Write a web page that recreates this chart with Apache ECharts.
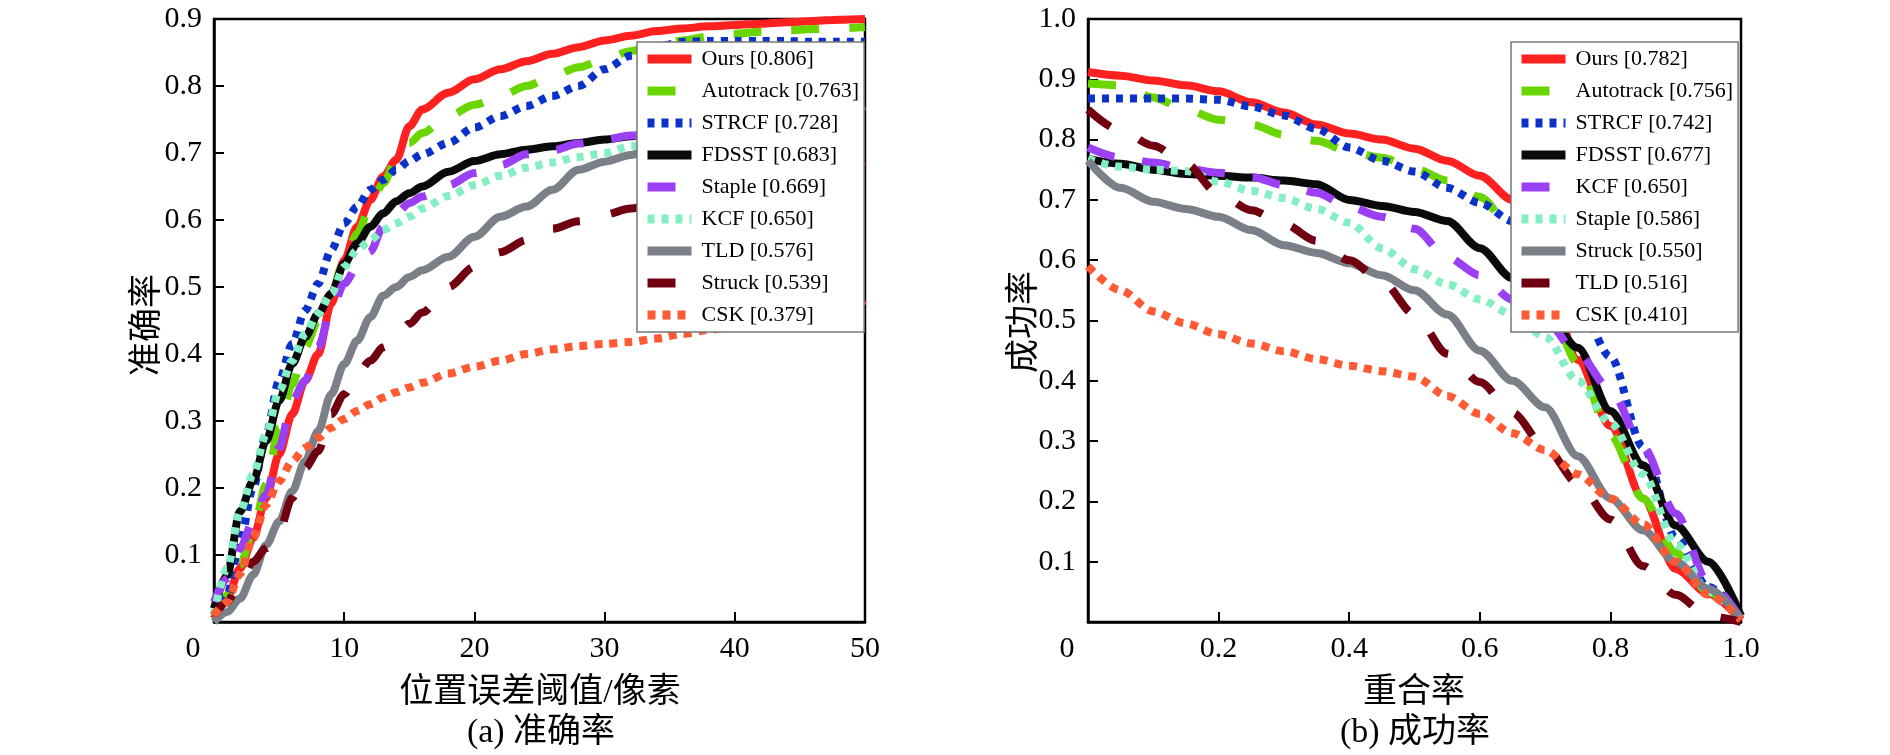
<!DOCTYPE html>
<html>
<head>
<meta charset="utf-8">
<title>准确率 / 成功率</title>
<script src="https://cdn.jsdelivr.net/npm/echarts/dist/echarts.min.js"></script>
<style>
  html, body { margin: 0; padding: 0; background: #fff; }
  #main { width: 1890px; height: 755px; }
</style>
</head>
<body>
<div id="main"></div>
<script>
// ---- 数据 ----
// (a) 准确率: 位置误差阈值 (像素)
var precX = [0, 1, 2, 3, 4, 5, 6, 7, 8, 9, 10, 11, 12, 13, 14, 15, 16, 18, 20, 22, 24, 26, 28, 30, 32, 34, 36, 38, 40, 42, 44, 46, 48, 50];
var precNames = ['Ours [0.806]', 'Autotrack [0.763]', 'STRCF [0.728]', 'FDSST [0.683]', 'Staple [0.669]', 'KCF [0.650]', 'TLD [0.576]', 'Struck [0.539]', 'CSK [0.379]'];
var precOurs = [0.005, 0.035, 0.08, 0.125, 0.185, 0.25, 0.31, 0.36, 0.40, 0.475, 0.54, 0.59, 0.63, 0.665, 0.69, 0.74, 0.765, 0.79, 0.81, 0.825, 0.837, 0.848, 0.858, 0.868, 0.875, 0.882, 0.886, 0.889, 0.891, 0.893, 0.895, 0.897, 0.899, 0.90];
var precAutotrack = [0.01, 0.04, 0.085, 0.135, 0.205, 0.29, 0.355, 0.41, 0.45, 0.49, 0.54, 0.58, 0.62, 0.655, 0.69, 0.715, 0.73, 0.755, 0.772, 0.785, 0.80, 0.815, 0.828, 0.84, 0.852, 0.862, 0.868, 0.874, 0.878, 0.881, 0.883, 0.885, 0.886, 0.888];
var precSTRCF = [0.01, 0.04, 0.12, 0.20, 0.28, 0.36, 0.415, 0.465, 0.505, 0.555, 0.595, 0.62, 0.645, 0.66, 0.675, 0.688, 0.698, 0.715, 0.738, 0.755, 0.77, 0.785, 0.80, 0.825, 0.845, 0.858, 0.866, 0.867, 0.867, 0.867, 0.867, 0.866, 0.866, 0.866];
var precFDSST = [0.02, 0.07, 0.165, 0.21, 0.27, 0.33, 0.385, 0.425, 0.46, 0.49, 0.535, 0.565, 0.59, 0.61, 0.628, 0.64, 0.65, 0.672, 0.688, 0.698, 0.705, 0.71, 0.715, 0.72, 0.725, 0.73, 0.733, 0.736, 0.739, 0.741, 0.743, 0.745, 0.747, 0.75];
var precStaple = [0.03, 0.065, 0.11, 0.15, 0.19, 0.26, 0.33, 0.36, 0.41, 0.465, 0.505, 0.53, 0.553, 0.59, 0.61, 0.625, 0.635, 0.652, 0.67, 0.682, 0.698, 0.704, 0.714, 0.72, 0.726, 0.73, 0.734, 0.738, 0.741, 0.744, 0.747, 0.75, 0.752, 0.755];
var precKCF = [0.01, 0.08, 0.165, 0.22, 0.28, 0.345, 0.39, 0.43, 0.46, 0.49, 0.53, 0.555, 0.57, 0.585, 0.595, 0.605, 0.617, 0.636, 0.652, 0.666, 0.678, 0.686, 0.694, 0.70, 0.71, 0.718, 0.725, 0.73, 0.735, 0.74, 0.744, 0.748, 0.751, 0.755];
var precTLD = [0.0, 0.015, 0.035, 0.07, 0.115, 0.15, 0.195, 0.24, 0.285, 0.34, 0.385, 0.42, 0.455, 0.487, 0.50, 0.515, 0.525, 0.545, 0.575, 0.605, 0.62, 0.645, 0.675, 0.687, 0.697, 0.708, 0.718, 0.728, 0.736, 0.744, 0.75, 0.756, 0.763, 0.77];
var precStruck = [0.01, 0.03, 0.06, 0.09, 0.11, 0.135, 0.185, 0.23, 0.255, 0.31, 0.34, 0.37, 0.39, 0.41, 0.425, 0.445, 0.462, 0.50, 0.53, 0.552, 0.57, 0.587, 0.598, 0.608, 0.617, 0.625, 0.635, 0.643, 0.65, 0.657, 0.663, 0.67, 0.678, 0.687];
var precCSK = [0.01, 0.03, 0.072, 0.125, 0.175, 0.21, 0.24, 0.26, 0.275, 0.29, 0.303, 0.315, 0.325, 0.335, 0.343, 0.35, 0.357, 0.371, 0.381, 0.39, 0.40, 0.407, 0.412, 0.415, 0.418, 0.423, 0.43, 0.436, 0.442, 0.448, 0.454, 0.461, 0.47, 0.48];

// (b) 成功率: 重合率
var succX = [0, 0.05, 0.1, 0.15, 0.2, 0.25, 0.3, 0.35, 0.4, 0.45, 0.5, 0.55, 0.6, 0.65, 0.7, 0.75, 0.8, 0.85, 0.9, 0.95, 1.0];
var succNames = ['Ours [0.782]', 'Autotrack [0.756]', 'STRCF [0.742]', 'FDSST [0.677]', 'KCF [0.650]', 'Staple [0.586]', 'Struck [0.550]', 'TLD [0.516]', 'CSK [0.410]'];
var succOurs = [0.912, 0.906, 0.898, 0.89, 0.88, 0.862, 0.845, 0.825, 0.81, 0.80, 0.785, 0.765, 0.74, 0.70, 0.585, 0.435, 0.325, 0.205, 0.088, 0.047, 0.003];
var succAutotrack = [0.893, 0.89, 0.87, 0.85, 0.833, 0.825, 0.808, 0.798, 0.78, 0.77, 0.752, 0.732, 0.705, 0.652, 0.54, 0.43, 0.31, 0.205, 0.115, 0.05, 0.003];
var succSTRCF = [0.868, 0.868, 0.868, 0.868, 0.866, 0.855, 0.84, 0.818, 0.787, 0.765, 0.747, 0.72, 0.695, 0.665, 0.60, 0.53, 0.44, 0.29, 0.14, 0.058, 0.01];
var succFDSST = [0.768, 0.76, 0.75, 0.743, 0.74, 0.737, 0.732, 0.726, 0.70, 0.69, 0.68, 0.665, 0.62, 0.57, 0.515, 0.455, 0.35, 0.26, 0.16, 0.10, 0.01];
var succKCF = [0.787, 0.77, 0.762, 0.752, 0.745, 0.738, 0.725, 0.712, 0.688, 0.672, 0.652, 0.605, 0.575, 0.535, 0.50, 0.445, 0.385, 0.29, 0.18, 0.065, 0.005];
var succStaple = [0.768, 0.755, 0.75, 0.748, 0.73, 0.715, 0.703, 0.685, 0.662, 0.62, 0.585, 0.56, 0.535, 0.51, 0.473, 0.40, 0.33, 0.245, 0.13, 0.05, 0.005];
var succStruck = [0.765, 0.72, 0.697, 0.685, 0.672, 0.65, 0.625, 0.612, 0.595, 0.575, 0.55, 0.51, 0.45, 0.40, 0.356, 0.275, 0.205, 0.152, 0.10, 0.055, 0.005];
var succTLD = [0.85, 0.815, 0.79, 0.76, 0.71, 0.683, 0.66, 0.632, 0.60, 0.565, 0.51, 0.445, 0.398, 0.347, 0.29, 0.23, 0.17, 0.093, 0.045, 0.01, 0.0];
var succCSK = [0.59, 0.55, 0.515, 0.495, 0.477, 0.462, 0.449, 0.436, 0.425, 0.416, 0.407, 0.375, 0.345, 0.313, 0.285, 0.245, 0.205, 0.162, 0.10, 0.045, 0.003];

var precVals = [precOurs, precAutotrack, precSTRCF, precFDSST, precStaple, precKCF, precTLD, precStruck, precCSK];
var succVals = [succOurs, succAutotrack, succSTRCF, succFDSST, succKCF, succStaple, succStruck, succTLD, succCSK];

// 每个位置的线型(两幅图相同)
var lineColors = ['#ff2020', '#6ad600', '#0a32c8', '#0a0a0a', '#9b3ff5', '#85efc4', '#7a7f88', '#700010', '#ff5a33'];
var lineTypes = ['solid', [28, 30], [7, 7], 'solid', [28, 28], [7, 7], 'solid', [28, 32], [8, 7]];

var serif = '"Liberation Serif", "Times New Roman", "Noto Sans CJK SC", serif';
var cjk = '"Liberation Serif", "Noto Sans CJK SC", serif';

var myChart = echarts.init(document.getElementById('main'));

// 系列名加前缀,避免两幅图同名(KCF [0.650])互相干扰
function makeSeries(xs, vals, names, prefix, idx) {
    return vals.map(function (v, i) {
        return {
            name: prefix + names[i],
            type: 'line',
            xAxisIndex: idx,
            yAxisIndex: idx,
            symbol: 'none',
            smooth: 0.3,
            smoothMonotone: 'x',
            lineStyle: { color: lineColors[i], width: 8, type: lineTypes[i], cap: 'butt' },
            itemStyle: { color: lineColors[i] },
            data: xs.map(function (x, j) { return [x, v[j]]; })
        };
    });
}

function axisBase() {
    return {
        axisLine: { show: true, lineStyle: { color: '#000', width: 2.5 } },
        axisTick: { show: true, inside: true, length: 10, lineStyle: { color: '#000', width: 2 } },
        splitLine: { show: false },
        axisLabel: { color: '#000', fontFamily: serif, fontSize: 30, margin: 12 }
    };
}

// "0" 标签偏左
var zeroRich = { z: { fontFamily: serif, fontSize: 30, color: '#000', padding: [0, 42, 0, 0] } };

var xA = axisBase();
xA.gridIndex = 0; xA.type = 'value'; xA.min = 0; xA.max = 50; xA.interval = 10;
xA.axisLabel.formatter = function (v) { return v === 0 ? '{z|0}' : String(v); };
xA.axisLabel.rich = zeroRich;

var xB = axisBase();
xB.gridIndex = 1; xB.type = 'value'; xB.min = 0; xB.max = 1; xB.interval = 0.2;
xB.axisLabel.formatter = function (v) { return v === 0 ? '{z|0}' : v.toFixed(1); };
xB.axisLabel.rich = zeroRich;

var yA = axisBase();
yA.gridIndex = 0; yA.type = 'value'; yA.min = 0; yA.max = 0.9; yA.interval = 0.1;
yA.axisLabel.formatter = function (v) { return v === 0 ? '' : v.toFixed(1); };

var yB = axisBase();
yB.gridIndex = 1; yB.type = 'value'; yB.min = 0; yB.max = 1; yB.interval = 0.1;
yB.axisLabel.formatter = function (v) { return v === 0 ? '' : v.toFixed(1); };

function legendBox(left, names, prefix) {
    return {
        orient: 'vertical',
        left: left,
        top: 42,
        padding: [6, 5, 6, 6],
        itemWidth: 44,
        itemHeight: 14,
        itemGap: 10,
        backgroundColor: '#fff',
        borderColor: '#777',
        borderWidth: 1.5,
        borderRadius: 0,
        selectedMode: false,
        itemStyle: { opacity: 0 },
        lineStyle: { width: 9 },
        data: names.map(function (n) { return prefix + n; }),
        formatter: function (n) { return n.split('|')[1]; },
        textStyle: { color: '#000', fontFamily: serif, fontSize: 22, lineHeight: 22, padding: [0, 0, 0, 5] }
    };
}

function label(text, x, y, rot) {
    return {
        type: 'text',
        x: x,
        y: y,
        rotation: rot || 0,
        style: {
            text: text,
            fontFamily: cjk,
            fontSize: 34,
            fill: '#000',
            align: 'center',
            verticalAlign: 'middle'
        }
    };
}

myChart.setOption({
    backgroundColor: '#fff',
    animation: false,
    grid: [
        { left: 214, top: 19, width: 651, height: 603, show: true, borderColor: '#000', borderWidth: 2.5, backgroundColor: 'transparent' },
        { left: 1088, top: 19, width: 653, height: 603, show: true, borderColor: '#000', borderWidth: 2.5, backgroundColor: 'transparent' }
    ],
    xAxis: [xA, xB],
    yAxis: [yA, yB],
    legend: [legendBox(637, precNames, 'a|'), legendBox(1511, succNames, 'b|')],
    graphic: [
        label('位置误差阈值/像素', 540, 693),
        label('(a) 准确率', 541, 733),
        label('准确率', 148, 325, Math.PI / 2),
        label('重合率', 1414, 693),
        label('(b) 成功率', 1415, 733),
        label('成功率', 1025, 322, Math.PI / 2)
    ],
    series: makeSeries(precX, precVals, precNames, 'a|', 0)
        .concat(makeSeries(succX, succVals, succNames, 'b|', 1))
});
</script>
</body>
</html>
